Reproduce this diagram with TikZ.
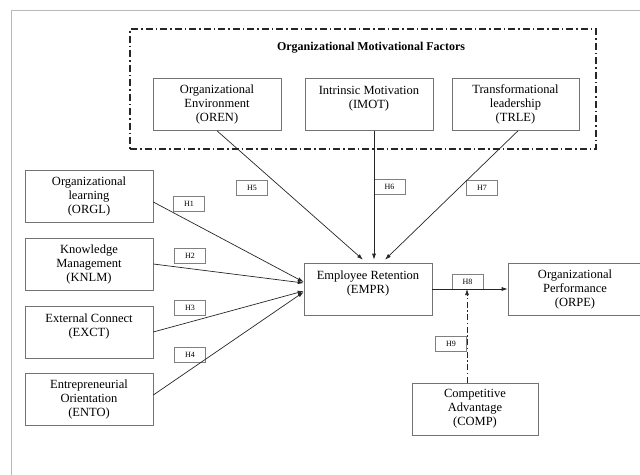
\documentclass[tikz,border=0pt]{standalone}
\usepackage{fontspec}
\setmainfont{Liberation Serif}
\usetikzlibrary{arrows.meta}

\tikzset{
  factor/.style={draw=gray!90!black, line width=0.6pt, minimum width=128pt, minimum height=52pt,
    inner sep=0pt, align=center, font=\fontsize{12.5}{14}\selectfont},
  hyp/.style={draw=gray, line width=0.5pt, fill=white, minimum width=31pt, minimum height=15pt,
    inner sep=0pt, font=\fontsize{8}{9}\selectfont},
  groupbox/.style={draw=black!85, line width=1.3pt, dash pattern=on 7pt off 3pt on 1.5pt off 3pt,
    minimum width=466pt, minimum height=120pt, inner sep=0pt},
  link/.style={draw=black!85, line width=0.7pt, -{Latex[length=6pt,width=4pt]}},
  modlink/.style={link, dash pattern=on 6pt off 2.5pt on 1.5pt off 2.5pt}
}

\begin{document}
\begin{tikzpicture}[x=1pt, y=-1pt]
  \useasboundingbox (0,0) rectangle (640,474);
  \draw[gray!55, line width=0.8pt] (11,480) -- (11,10) -- (650,10);

  \node[groupbox] (omf) at (363,89) {};
  \node[font=\bfseries\fontsize{12}{14}\selectfont] (omft) at (371,48) {Organizational Motivational Factors};

  \node[factor] (oren) at (217,104.5) {Organizational\\Environment\\(OREN)};
  \node[factor] (imot) at (369,104.5) {Intrinsic Motivation\\(IMOT)\\\mbox{}};
  \node[factor, minimum width=127pt] (trle) at (515.5,104.5) {Transformational\\leadership\\(TRLE)};

  \node[factor] (orgl) at (89,196) {Organizational\\learning\\(ORGL)};
  \node[factor] (knlm) at (89,264) {Knowledge\\Management\\(KNLM)};
  \node[factor] (exct) at (89,332) {External Connect\\(EXCT)\\\mbox{}};
  \node[factor] (ento) at (89,399) {Entrepreneurial\\Orientation\\(ENTO)};

  \node[factor] (empr) at (368,289) {Employee Retention\\(EMPR)\\\mbox{}};
  \node[factor, minimum width=134pt] (orpe) at (575,289.5) {Organizational\\Performance\\(ORPE)};
  \node[factor, minimum width=126pt] (comp) at (475,409) {Competitive\\Advantage\\(COMP)};

  \node[hyp] (h1) at (189,204) {H1};
  \node[hyp] (h2) at (190,255.5) {H2};
  \node[hyp] (h3) at (190,308) {H3};
  \node[hyp] (h4) at (190,355) {H4};
  \node[hyp] (h5) at (252,187.5) {H5};
  \node[hyp] (h6) at (389.5,187) {H6};
  \node[hyp] (h7) at (482,187.5) {H7};
  \node[hyp] (h8) at (467.5,282) {H8};
  \node[hyp] (h9) at (451,343.5) {H9};

  \draw[link] ([yshift=-6pt]orgl.east) -- ([yshift=7pt]empr.west);
  \draw[link] (knlm.east) -- ([yshift=6pt]empr.west);
  \draw[link] (exct.east) -- ([yshift=-2pt]empr.west);
  \draw[link] ([yshift=4pt]ento.east) -- ([yshift=-3pt]empr.west);

  \draw[link] (oren.south) -- ([xshift=-5pt,yshift=3pt]empr.north);
  \draw[link] ([xshift=5pt]imot.south) -- ([xshift=6pt,yshift=3pt]empr.north);
  \draw[link] ([xshift=2.5pt]trle.south) -- ([xshift=17pt,yshift=3pt]empr.north);

  \draw[link] (empr.east) -- (orpe.west |- empr.east);
  \coordinate (mod) at (467,289);
  \draw[modlink] (comp.north -| mod) -- (mod);
\end{tikzpicture}
\end{document}
